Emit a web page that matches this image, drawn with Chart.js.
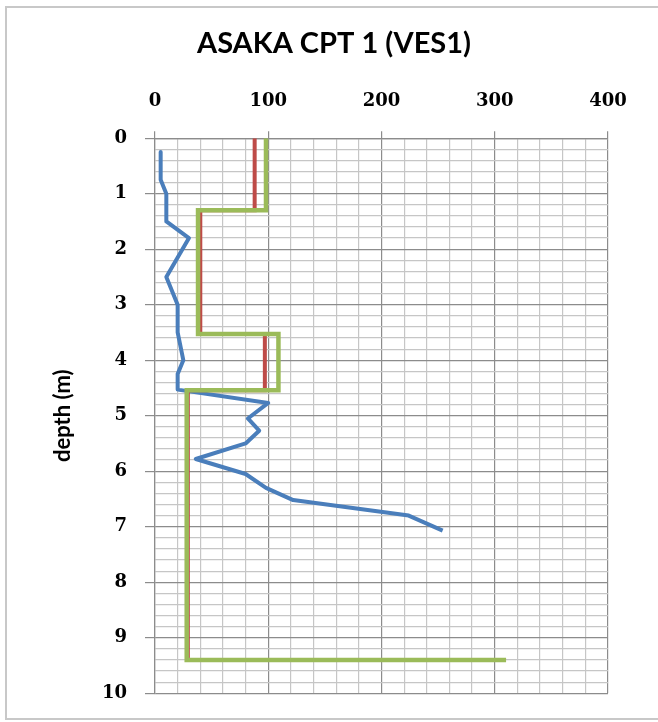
<!DOCTYPE html>
<html>
<head>
<meta charset="utf-8">
<script src="https://cdn.jsdelivr.net/npm/chart.js@4.4.0/dist/chart.umd.min.js"></script>
<style>
    body { margin: 0; background: #fff; }
    #frame {
        position: absolute; left: 5px; top: 6px; width: 660px; height: 714px;
        border: 2px solid #c8c8c8; box-sizing: border-box;
    }
    #chart { position: absolute; left: 0; top: 0; }
</style>
</head>
<body>
<div id="frame"></div>
<canvas id="chart" width="658" height="722"></canvas>
<script>
// blue trace
const cptDepth = [0.25, 0.75, 1.0, 1.5, 1.8, 2.5, 3.0, 3.5, 4.0, 4.25, 4.53, 4.77, 5.05, 5.27, 5.5, 5.78, 6.05, 6.3, 6.52, 6.8, 7.07];
const cptValue = [5, 5, 10, 10, 30, 10, 20, 20, 25, 20, 20, 100, 82, 92, 80, 36, 80, 98, 122, 224, 254];

// red profile
const profileADepth = [0, 1.3, 1.3, 3.53, 3.53, 4.54, 4.54, 9.4];
const profileAValue = [88, 88, 40, 40, 97, 97, 29, 29];

// green profile
const profileBDepth = [0, 1.3, 1.3, 3.53, 3.53, 4.54, 4.54, 9.4, 9.4];
const profileBValue = [98, 98, 38, 38, 109, 109, 28, 28, 310];

const xTickLabels = [0, 100, 200, 300, 400];
const depthTickLabels = [0, 1, 2, 3, 4, 5, 6, 7, 8, 9, 10];

function toPoints(xs, ys) {
    return xs.map((x, i) => ({ x: x, y: ys[i] }));
}

function isLabel(list, v) {
    return list.some(t => Math.abs(t - v) < 1e-6);
}

const majorGrid = '#8c8c8c';
const minorGrid = '#c6c6c6';
const tickFont = { family: 'DejaVu Serif', size: 18, weight: 'bold' };

const ctx = document.getElementById('chart').getContext('2d');

let chart = new Chart(ctx, {
    type: 'scatter',
    data: {
        datasets: [
            { data: toPoints(cptValue, cptDepth), borderColor: '#4a7ebb', borderWidth: 4,
              borderJoinStyle: 'round', order: 2 },
            { data: toPoints(profileAValue, profileADepth), borderColor: '#be4b48', borderWidth: 4,
              borderJoinStyle: 'miter', order: 1 },
            { data: toPoints(profileBValue, profileBDepth), borderColor: '#9bbb59', borderWidth: 4.5,
              borderJoinStyle: 'miter', order: 0 }
        ].map(d => Object.assign(d, { showLine: true, pointRadius: 0, tension: 0, fill: false }))
    },
    options: {
        responsive: false,
        animation: false,
        layout: { padding: { top: 16, left: 50, right: 40, bottom: 26 } },
        plugins: {
            legend: { display: false },
            tooltip: { enabled: false },
            title: {
                display: true,
                text: 'ASAKA CPT 1 (VES1)',
                color: '#000',
                font: { family: 'Lato', size: 29, weight: 'bold' },
                padding: { top: 10, bottom: 10 }
            }
        },
        scales: {
            x: {
                type: 'linear',
                position: 'top',
                min: 0,
                max: 400,
                afterFit: s => { s.height = 67.4; },
                ticks: {
                    stepSize: 20,
                    maxTicksLimit: 100,
                    autoSkip: false,
                    maxRotation: 0,
                    padding: 19,
                    color: '#000',
                    font: tickFont,
                    callback: v => isLabel(xTickLabels, v) ? String(v) : ''
                },
                grid: {
                    color: c => isLabel(xTickLabels, c.tick.value) ? majorGrid : minorGrid,
                    tickColor: c => isLabel(xTickLabels, c.tick.value) ? majorGrid : 'rgba(0,0,0,0)',
                    tickLength: 7,
                    lineWidth: 1.2
                },
                border: { color: majorGrid, width: 1.2 }
            },
            y: {
                type: 'linear',
                reverse: true,
                min: 0,
                max: 10,
                afterFit: s => { s.width = 105; },
                title: {
                    display: true,
                    text: 'depth (m)',
                    color: '#000',
                    font: { family: 'Lato', size: 22, weight: 'bold' },
                    padding: { top: 0, bottom: 0 }
                },
                ticks: {
                    stepSize: 0.2,
                    maxTicksLimit: 100,
                    autoSkip: false,
                    padding: 18,
                    color: '#000',
                    font: tickFont,
                    callback: v => isLabel(depthTickLabels, v) ? String(Math.round(v)) : ''
                },
                grid: {
                    color: c => isLabel(depthTickLabels, c.tick.value) ? majorGrid : minorGrid,
                    tickColor: c => isLabel(depthTickLabels, c.tick.value) ? majorGrid : 'rgba(0,0,0,0)',
                    tickLength: 10,
                    lineWidth: 1.2
                },
                border: { color: majorGrid, width: 1.2 }
            },
            // empty right-hand spacer so the title centres like the original
            spacer: {
                type: 'linear',
                position: 'right',
                afterFit: s => { s.width = 10; },
                ticks: { display: false },
                grid: { display: false },
                border: { display: false }
            }
        }
    }
});
</script>
</body>
</html>
